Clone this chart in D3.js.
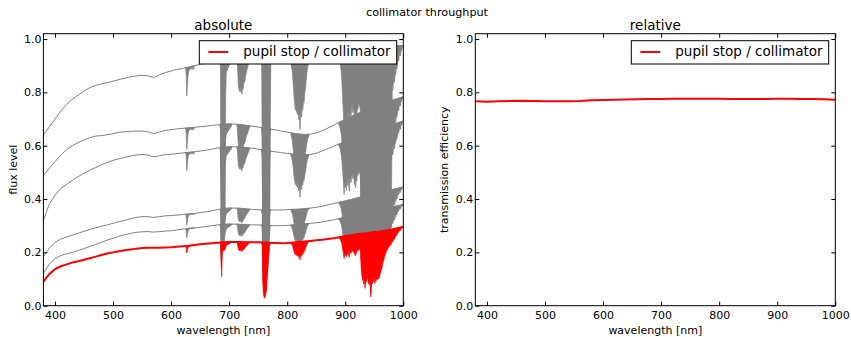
<!DOCTYPE html>
<html><head><meta charset="utf-8">
<script src="https://cdn.jsdelivr.net/npm/d3@7"></script>
<style>
body{margin:0;background:#fff;}
svg{display:block;font-family:"DejaVu Sans",sans-serif;}
</style></head><body>
<svg id="chart" width="851" height="337"></svg>
<script>
// ---------------- data ----------------
// continuum wavelength grid [nm]
const wavelength = d3.range(380, 1001, 10);
// gray spectra (continuum levels), top to bottom
const fluxG1 = [.64,.67,.70,.73,.755,.775,.79,.805,.818,.826, .832,.836,.842,.848,.853,.858,.862,.864,.862,.856, .866,.874,.880,.886,.890,.895,.900,.905,.910,.915, .920,.925,.930,.932,.933,.933,.932,.930,.928,.925, .922,.920,.918,.917,.917,.918,.920,.923,.927,.932, .937,.942,.947,.952,.956,.960,.963,.966,.969,.971, .973,.975,.976];
const fluxG2 = [.487,.515,.54,.565,.585,.60,.612,.622,.63,.636, .638,.641,.645,.65,.652,.654,.655,.655,.652,.645, .652,.657,.66,.663,.665,.667,.669,.671,.673,.676, .678,.68,.682,.681,.679,.676,.673,.67,.667,.663, .659,.655,.651,.647,.644,.642,.643,.648,.656,.666, .677,.688,.699,.709,.719,.728,.737,.746,.755,.763, .77,.777,.783];
const fluxG3 = [.32,.38,.415,.44,.455,.47,.484,.497,.508,.518, .528,.537,.545,.551,.556,.561,.565,.567,.565,.558, .562,.567,.568,.570,.573,.575,.577,.580,.583,.587, .591,.594,.596,.596,.595,.593,.590,.587,.584,.580, .577,.574,.571,.568,.566,.565,.567,.572,.580,.589, .598,.607,.615,.624,.633,.642,.650,.658,.666,.673, .680,.686,.692];
const fluxG4 = [.184,.215,.237,.25,.258,.265,.272,.279,.286,.292, .298,.303,.309,.315,.32,.326,.331,.334,.334,.331, .334,.337,.338,.34,.342,.344,.346,.349,.352,.356, .36,.364,.366,.366,.365,.363,.361,.36,.359,.359, .359,.359,.36,.361,.362,.364,.366,.369,.373,.378, .383,.388,.393,.398,.404,.41,.416,.421,.425,.43, .435,.44,.445];
const fluxG5 = [.121,.155,.177,.188,.195,.2,.207,.214,.222,.23, .238,.246,.253,.26,.266,.271,.275,.277,.278,.276, .278,.28,.281,.284,.287,.29,.292,.294,.297,.3, .303,.305,.306,.306,.305,.304,.303,.303,.302,.301, .3,.3,.301,.303,.305,.307,.309,.311,.314,.318, .322,.327,.333,.338,.342,.347,.351,.355,.359,.364, .369,.375,.38];
// red spectrum: pupil stop / collimator
const fluxRed = [.09,.118,.137,.148,.155,.162,.167,.172,.178,.184, .19,.196,.2,.204,.208,.211,.214,.216,.217,.217, .217,.218,.219,.221,.223,.225,.228,.23,.232,.234, .236,.238,.239,.239,.239,.238,.238,.238,.237,.236, .235,.234,.235,.237,.239,.241,.243,.245,.247,.25, .253,.257,.261,.264,.268,.271,.273,.276,.278,.282, .286,.291,.296];

// telluric absorption bands: first wavelength of each band (1 nm steps)
const bandStart = [625, 684, 713, 755, 806, 888];
// lower envelope of the absorption lines (fraction of continuum)
const bandLine = [
  [1,.97,.88,.92,.96,.98,.99,.985,1,.99,1,.985,1,.99,.985,1],
  [1,.97,.7,.46,.8,.87,.86,.88,.87,.89,.92,.94,.96,.95,.97,.96,.98,.97,.99,.98,.99,1],
  [1,.98,.93,.88,.87,.86,.88,.86,.87,.85,.88,.87,.89,.9,.9,.92,.93,.94,.95,.96,.97,.98,.99,1],
  [1,.98,.95,.4,.2,.14,.12,.13,.18,.22,.35,.5,.6,.75,.88,.96,.99,1],
  [1,.98,.97,.95,.92,.88,.85,.82,.8,.83,.79,.81,.78,.8,.76,.79,.72,.78,.8,.77,.82,.8,.84,.83,.86,.88,.9,.93,.95,.97,.98,.99,1],
  [1,.99,.98,.97,.95,.93,.9,.85,.8,.75, .68,.74,.72,.76,.7,.75,.73,.78,.72,.69, .75,.77,.74,.78,.8,.76,.79,.75,.72,.78,
   .7,.76,.74,.79,.77,.8,.78,.8,.75,.6, .45,.4,.35,.38,.3,.35,.24,.32,.38,.33, .4,.36,.3,.35,.28,.3,.12,.28,.35,.3,
   .38,.33,.37,.3,.36,.33,.38,.35,.36,.38, .36,.4,.42,.45,.5,.48,.55,.58,.6,.63, .66,.68,.7,.72,.76,.74,.78,.77,.8,.78,
   .82,.8,.83,.85,.83,.86,.88,.86,.9,.89, .92,.91,.93,.95,.94,.96,.97,.96,.98,.98, .99,1,1]
];
// envelope of the brightest gray spectrum (saturated O2 / H2O bands)
const bandTop = [
  [1,.97,.88,.92,.96,.98,.99,.985,1,.99,1,.985,1,.99,.985,1],
  [1,.97,.4,.26,.26,.26,.26,.26,.26,.3,.85,.94,.96,.95,.97,.96,.98,.97,.99,.98,.99,1],
  [1,.98,.93,.88,.87,.86,.88,.86,.87,.85,.88,.87,.89,.9,.9,.92,.93,.94,.95,.96,.97,.98,.99,1],
  [1,.98,.6,.26,.26,.26,.26,.26,.26,.26,.26,.26,.26,.26,.26,.3,.8,1],
  [1,.98,.97,.95,.92,.88,.85,.82,.8,.83,.79,.81,.78,.8,.76,.79,.72,.78,.8,.77,.82,.8,.84,.83,.86,.88,.9,.93,.95,.97,.98,.99,1],
  [1,.99,.98,.97,.95,.93,.9,.85,.8,.75, .68,.74,.72,.76,.7,.75,.73,.78,.72,.69, .75,.77,.74,.78,.8,.76,.79,.75,.72,.78,
   .7,.76,.74,.79,.77,.8,.78,.8,.75,.45, .25,.25,.25,.25,.25,.25,.25,.25,.25,.25, .25,.25,.25,.25,.25,.25,.25,.25,.25,.25,
   .25,.25,.25,.25,.25,.25,.25,.25,.25,.25, .25,.25,.25,.25,.25,.25,.25,.25,.25,.25, .25,.25,.25,.25,.25,.25,.25,.25,.25,.25,
   .25,.25,.5,.85,.83,.86,.88,.86,.9,.89, .92,.91,.93,.95,.94,.96,.97,.96,.98,.98, .99,1,1]
];

// relative transmission (right panel)
const relWavelength = d3.range(380, 1001, 20);
const relEfficiency = [.767,.765,.767,.768,.769,.768,.767,.767,.767,.768,.770,.771,.772,.773,.774,.775,.775,.776,.776,.776,.776,.776,.775,.775,.775,.775,.776,.776,.775,.775,.774,.772];

const xTicks = [400,500,600,700,800,900,1000];
const yTicks = [0,0.2,0.4,0.6,0.8,1.0];
const legendLabel = "pupil stop / collimator";

// ---------------- drawing ----------------
const svg = d3.select("#chart");
const yTop = 33.7, yBot = 305.7;
const panels = [
  {x0: 43.4, x1: 403.3, title: "absolute", ylabel: "flux level", ylabX: 16.7},
  {x0: 475.3, x1: 835.3, title: "relative", ylabel: "transmission efficiency", ylabX: 448.4}
];
const GRAY = "#808080", RED = "#ff0000";

svg.append("text").attr("x", 427).attr("y", 16).attr("text-anchor", "middle")
  .attr("font-size", 11.2).text("collimator throughput");

panels.forEach((p, pi) => {
  const x = d3.scaleLinear().domain([380, 1000]).range([p.x0, p.x1]);
  const y = d3.scaleLinear().domain([0, 1.02]).range([yBot, yTop]);
  p.x = x; p.y = y;
  const g = svg.append("g");
  const clipId = "clip" + pi;
  svg.append("clipPath").attr("id", clipId).append("rect")
    .attr("x", p.x0).attr("y", yTop).attr("width", p.x1 - p.x0).attr("height", yBot - yTop);
  const plot = g.append("g").attr("clip-path", `url(#${clipId})`);

  if (pi === 0) {
    const series = [
      {flux: fluxG1, env: bandTop, color: GRAY, lw: 1},
      {flux: fluxG2, env: bandLine, color: GRAY, lw: 1},
      {flux: fluxG3, env: bandLine, color: GRAY, lw: 1},
      {flux: fluxG4, env: bandLine, color: GRAY, lw: 1},
      {flux: fluxG5, env: bandLine, color: GRAY, lw: 1},
      {flux: fluxRed, env: bandLine, color: RED, lw: 2}
    ];
    series.forEach(s => {
      const cont = d3.scaleLinear().domain(wavelength).range(s.flux);
      // absorption bands
      s.env.forEach((arr, k) => {
        const pts = arr.map((t, i) => ({w: bandStart[k] + i, t}));
        const area = d3.area()
          .x(d => x(d.w))
          .y0(d => y(cont(d.w) * d.t))
          .y1(d => y(cont(d.w)));
        plot.append("path").attr("d", area(pts))
          .attr("fill", s.color).attr("stroke", s.color).attr("stroke-width", 0.7)
          .attr("stroke-linejoin", "miter");
      });
      const line = d3.line().x((d, i) => x(wavelength[i])).y(d => y(d));
      plot.append("path").attr("d", line(s.flux)).attr("fill", "none")
        .attr("stroke", s.color).attr("stroke-width", s.lw);
    });
  } else {
    const line = d3.line().x((d, i) => x(relWavelength[i])).y(d => y(d));
    plot.append("path").attr("d", line(relEfficiency)).attr("fill", "none")
      .attr("stroke", RED).attr("stroke-width", 2);
  }

  // axes
  const axB = d3.axisBottom(x).tickValues(xTicks).tickFormat(d3.format("d")).tickSizeInner(-4).tickSizeOuter(0).tickPadding(6);
  const axT = d3.axisTop(x).tickValues(xTicks).tickFormat("").tickSizeInner(-4).tickSizeOuter(0);
  const axL = d3.axisLeft(y).tickValues(yTicks).tickFormat(d3.format(".1f")).tickSizeInner(-4).tickSizeOuter(0).tickPadding(2);
  const axR = d3.axisRight(y).tickValues(yTicks).tickFormat("").tickSizeInner(-4).tickSizeOuter(0);
  const add = (ax, tr) => {
    const a = g.append("g").attr("transform", tr).call(ax);
    a.select(".domain").remove();
    a.selectAll("text").attr("font-size", 11).attr("font-family", "DejaVu Sans").attr("fill", "#000");
    a.selectAll("line").attr("stroke", "#000");
    return a;
  };
  add(axB, `translate(0,${yBot})`);
  add(axT, `translate(0,${yTop})`);
  add(axL, `translate(${p.x0},0)`);
  add(axR, `translate(${p.x1},0)`);

  g.append("rect").attr("x", p.x0).attr("y", yTop).attr("width", p.x1 - p.x0).attr("height", yBot - yTop)
    .attr("fill", "none").attr("stroke", "#000").attr("stroke-width", 1);

  // labels
  g.append("text").attr("x", (p.x0 + p.x1) / 2).attr("y", 29.5).attr("text-anchor", "middle")
    .attr("font-size", 13.5).text(p.title);
  g.append("text").attr("x", (p.x0 + p.x1) / 2).attr("y", 334).attr("text-anchor", "middle")
    .attr("font-size", 11).text("wavelength [nm]");
  g.append("text").attr("transform", `translate(${p.ylabX},${(yTop + yBot) / 2}) rotate(-90)`)
    .attr("text-anchor", "middle").attr("font-size", 11).text(p.ylabel);

  // legend
  const lx = p.x1 - 204, ly = 40.7;
  const lg = g.append("g");
  lg.append("rect").attr("x", lx).attr("y", ly).attr("width", 197.4).attr("height", 23.3)
    .attr("fill", "#fff").attr("stroke", "#000").attr("stroke-width", 1);
  lg.append("line").attr("x1", lx + 9).attr("x2", lx + 29).attr("y1", 52).attr("y2", 52)
    .attr("stroke", RED).attr("stroke-width", 2);
  lg.append("text").attr("x", lx + 44).attr("y", 55.5).attr("font-size", 13.5).text(legendLabel);
});
</script>
</body></html>
